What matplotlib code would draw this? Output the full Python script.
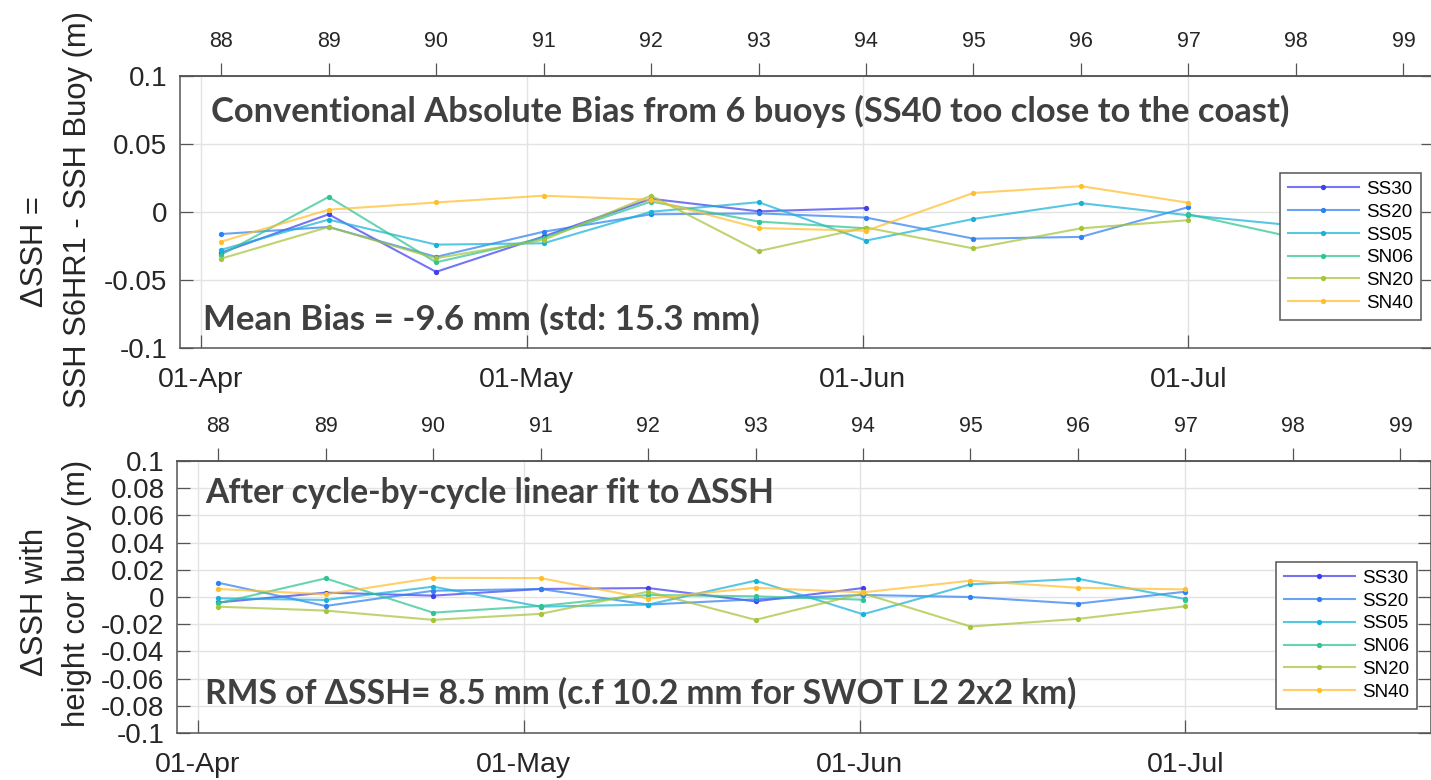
import numpy as np
import matplotlib
matplotlib.use('Agg')
import matplotlib.pyplot as plt
from matplotlib.colors import to_rgb

W, H, DPI = 1431, 780, 100

# ---------------- data ----------------
stations = ['SS30', 'SS20', 'SS05', 'SN06', 'SN20', 'SN40']
nan = np.nan
cycles_top = [88, 89, 90, 91, 92, 93, 94, 95, 96, 97, 98]
top_SS30 = [-0.030, -0.0017, -0.044, -0.018, 0.0097, 0.0005, 0.0029, nan, nan, nan, nan]
top_SS20 = [-0.0162, -0.011, -0.033, -0.0145, -0.0017, -0.001, -0.0041, -0.0196, -0.0183, 0.0036, nan]
top_SS05 = [-0.0278, -0.0056, -0.024, -0.023, 0.0002, 0.0072, -0.021, -0.0051, 0.0065, -0.0024, -0.010]
top_SN06 = [-0.0314, 0.0111, -0.037, -0.019, 0.0077, -0.007, -0.012, nan, nan, -0.0017, -0.019]
top_SN20 = [-0.0343, -0.011, -0.034, -0.0205, 0.012, -0.0288, -0.0114, -0.0268, -0.012, -0.006, nan]
top_SN40 = [-0.0218, 0.0017, 0.007, 0.012, 0.009, -0.0118, -0.0138, 0.014, 0.019, 0.0068, nan]

cycles_bot = [88, 89, 90, 91, 92, 93, 94, 95, 96, 97]
bot_SS30 = [-0.004, 0.0032, 0.001, 0.0059, 0.0066, -0.0032, 0.0066, nan, nan, nan]
bot_SS20 = [0.0105, -0.0066, 0.0046, 0.0059, -0.0056, -0.0017, 0.0015, 0.0, -0.0049, 0.0039]
bot_SS05 = [-0.001, -0.0022, 0.0076, -0.0071, -0.0056, 0.012, -0.0127, 0.0093, 0.0134, -0.0015]
bot_SN06 = [-0.0046, 0.0137, -0.0115, -0.0066, 0.0015, 0.0005, -0.002, nan, nan, -0.0022]
bot_SN20 = [-0.0071, -0.010, -0.0168, -0.0124, 0.0039, -0.0168, 0.0027, -0.0217, -0.0161, -0.0068]
bot_SN40 = [0.0059, 0.002, 0.0141, 0.0139, -0.0012, 0.0068, 0.0034, 0.012, 0.0068, 0.0056]

cycle_ticks = [88, 89, 90, 91, 92, 93, 94, 95, 96, 97, 98, 99]
date_ticks = [0, 30, 61, 91]          # days since 01-Apr
date_labels = ['01-Apr', '01-May', '01-Jun', '01-Jul']

top_series = [top_SS30, top_SS20, top_SS05, top_SN06, top_SN20, top_SN40]
bot_series = [bot_SS30, bot_SS20, bot_SS05, bot_SN06, bot_SN20, bot_SN40]

# ---------------- style ----------------
colors = ['#3f3ff0', '#2f80f2', '#18b2d8', '#2ec493', '#a5c43a', '#ffbe2e']
CYC88_DAY = 1.85
CYC_LEN = 9.906
XLIM = (-1.94, 113.6)
PX_PER_DAY = 10.85
TXT = '#404040'
SPINE = '#555555'
TICKC = '#262626'
GRID = '#e3e3e3'
plt.rcParams['font.family'] = ['Liberation Sans', 'DejaVu Sans']


def cyc2day(c):
    return CYC88_DAY + (np.asarray(c, dtype=float) - 88) * CYC_LEN


fig = plt.figure(figsize=(W / DPI, H / DPI), dpi=DPI)
width_px = (XLIM[1] - XLIM[0]) * PX_PER_DAY
ax1 = fig.add_axes([180 / W, (H - 348) / H, width_px / W, 272 / H])
ax2 = fig.add_axes([177 / W, (H - 733) / H, width_px / W, 272 / H])


def setup(ax, yticks, ylabels):
    ax.set_xlim(*XLIM)
    ax.set_ylim(-0.1, 0.1)
    ax.set_yticks(yticks)
    ax.set_yticklabels(ylabels)
    ax.set_xticks(date_ticks)
    ax.set_xticklabels(date_labels)
    ax.tick_params(axis='y', direction='in', length=9.4, width=0.9, color=SPINE,
                   labelsize=20, labelcolor=TICKC, pad=9, right=True)
    ax.tick_params(axis='x', direction='in', length=9.4, width=0.9, color=SPINE,
                   labelsize=20.5, labelcolor=TICKC, pad=14, top=False)
    ax.grid(True, color=GRID, linewidth=1.0)
    ax.set_axisbelow(True)
    for s in ax.spines.values():
        s.set_color(SPINE)
        s.set_linewidth(1.1)
    axt = ax.twiny()
    axt.set_xlim(*XLIM)
    axt.set_xticks(cyc2day(cycle_ticks))
    axt.set_xticklabels([str(c) for c in cycle_ticks])
    axt.tick_params(axis='x', direction='out', length=9.4, width=0.9, color=SPINE,
                    labelsize=15.5, labelcolor=TICKC, pad=8)
    for s in axt.spines.values():
        s.set_visible(False)
    axt.spines['top'].set_visible(True)
    axt.spines['top'].set_color(SPINE)
    axt.spines['top'].set_linewidth(1.1)
    return axt


ax1t = setup(ax1, [-0.1, -0.05, 0, 0.05, 0.1], ['-0.1', '-0.05', '0', '0.05', '0.1'])
yt2 = [-0.1, -0.08, -0.06, -0.04, -0.02, 0, 0.02, 0.04, 0.06, 0.08, 0.1]
ax2t = setup(ax2, yt2, ['-0.1', '-0.08', '-0.06', '-0.04', '-0.02', '0', '0.02', '0.04',
                        '0.06', '0.08', '0.1'])


def draw(ax, cycles, series):
    x = cyc2day(cycles)
    for name, vals, col in zip(stations, series, colors):
        r, g, b = to_rgb(col)
        ax.plot(x, vals, '-', color=(r, g, b, 0.72), linewidth=1.5,
                marker='o', markersize=3.8, markerfacecolor=(r, g, b, 1),
                markeredgecolor=(r, g, b, 1), markeredgewidth=0, label=name, zorder=3)


draw(ax1, cycles_top, top_series)
draw(ax2, cycles_bot, bot_series)

leg_kw = dict(loc='upper right', bbox_transform=fig.transFigure, borderaxespad=0,
              fontsize=13.5, handlelength=3.8, handletextpad=0.37, borderpad=0.42,
              labelspacing=0.3, numpoints=1, fancybox=False, framealpha=1,
              edgecolor='#555555')
l1 = ax1.legend(bbox_to_anchor=(1421 / W, 1 - 173 / H), **leg_kw)
l2 = ax2.legend(bbox_to_anchor=(1417 / W, 1 - 562 / H), **leg_kw)
for l in (l1, l2):
    l.get_frame().set_linewidth(1.1)
    l.set_zorder(10)

# ---------------- annotation texts ----------------
renderer = fig.canvas.get_renderer()
BFONT = ['Lato', 'DejaVu Sans']


def fit_text(x0, yc, s, target_w):
    t = fig.text(x0 / W, 1 - yc / H, s, ha='left', va='center', fontsize=20,
                 fontweight='bold', color=TXT, family=BFONT, zorder=20)
    w = t.get_window_extent(renderer).width
    t.set_fontsize(20 * target_w / w)
    return t


fit_text(211, 111, 'Conventional Absolute Bias from 6 buoys (SS40 too close to the coast)', 1077)
fit_text(203, 319, 'Mean Bias = -9.6 mm (std: 15.3 mm)', 557)
fit_text(205, 493, 'After cycle-by-cycle linear fit to \u0394SSH', 570)
fit_text(205, 693, 'RMS of \u0394SSH= 8.5 mm (c.f 10.2 mm for SWOT L2 2x2 km)', 873)

# ---------------- y labels ----------------
YLF = 22.3
fig.text(35 / W, 1 - 252 / H, '\u0394SSH =', rotation=90, ha='center', va='center',
         fontsize=YLF, color=TICKC)
fig.text(78 / W, 1 - 210 / H, 'SSH S6HR1 - SSH Buoy (m)', rotation=90, ha='center',
         va='center', fontsize=YLF, color=TICKC)
fig.text(35 / W, 1 - 602 / H, '\u0394SSH with', rotation=90, ha='center', va='center',
         fontsize=YLF, color=TICKC)
fig.text(77 / W, 1 - 593 / H, 'height cor buoy (m)', rotation=90, ha='center',
         va='center', fontsize=YLF, color=TICKC)

fig.savefig('out.png', dpi=DPI)
